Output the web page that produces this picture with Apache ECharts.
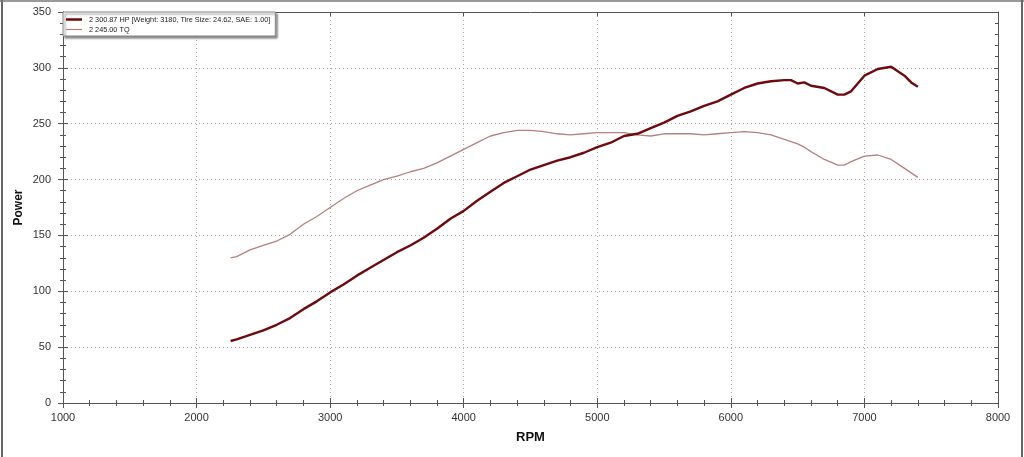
<!DOCTYPE html>
<html>
<head>
<meta charset="utf-8">
<script src="https://cdn.jsdelivr.net/npm/echarts@6/dist/echarts.min.js"></script>
<style>html,body{margin:0;padding:0;background:#fff;}#c{width:1024px;height:457px;}</style>
</head>
<body>
<div id="c"></div>
<script>
const rpm = [2255,2300,2400,2500,2600,2700,2800,2900,3000,3100,3200,3300,3400,3500,3600,3700,3800,3900,4000,4100,4200,4300,4400,4500,4600,4700,4800,4900,5000,5100,5200,5300,5400,5500,5600,5700,5800,5900,6000,6100,6200,6300,6400,6450,6500,6550,6600,6700,6800,6850,6900,7000,7100,7200,7300,7350,7400];
const hp = [55.5,57,61,65,70,76,84,91,99,106,114,121,128,135,141,148,156,165,172,181,189,197,203,209,213,217,220,224,229,233,239,241,246,251,257,261,266,270,276,282,286,288,289,289,286,287,284,282,276,276,279,293,299,301,293,287,283];
const tq = [130,131,137,141,145,151,160,167,175,183,190,195,200,203,207,210,215,221,227,233,239,242,244,244,243,241,240,241,242,242,242,240,239,241,241,241,240,241,242,243,242,240,236,234,232,229,225,218,213,213,216,221,222,218,210,206,202];
const hpName = '2 300.87 HP [Weight: 3180, Tire Size: 24.62, SAE: 1.00]';
const tqName = '2 245.00 TQ';
const xTicks = {min:1000, max:8000, interval:1000};
const yTicks = {min:0, max:350, interval:50};

const chart = echarts.init(document.getElementById('c'), null, {renderer:'canvas'});
const axisCol = '#555';
const gridLeft = 63, gridRight = 26, gridTop = 12, gridBottom = 54;
function xAx(extra){
  return Object.assign({type:'value', min:xTicks.min, max:xTicks.max, interval:xTicks.interval,
    axisLine:{show:true, onZero:false, lineStyle:{color:axisCol, width:1}},
    axisTick:{show:true, length:5, lineStyle:{color:axisCol}},
    minorTick:{show:true, splitNumber:5, length:3, lineStyle:{color:axisCol}},
    axisLabel:{show:false}, splitLine:{show:false}}, extra);
}
function yAx(extra){
  return Object.assign({type:'value', min:yTicks.min, max:yTicks.max, interval:yTicks.interval,
    axisLine:{show:true, onZero:false, lineStyle:{color:axisCol, width:1}},
    axisTick:{show:true, length:5, lineStyle:{color:axisCol}},
    minorTick:{show:true, splitNumber:5, length:3, lineStyle:{color:axisCol}},
    axisLabel:{show:false}, splitLine:{show:false}}, extra);
}
const option = {
  backgroundColor:'#fff',
  animation:false,
  grid:{left:gridLeft, right:gridRight, top:gridTop, bottom:gridBottom, containLabel:false},
  legend:{
    orient:'vertical', left:63, top:12, padding:[4,5,3,3], itemGap:3,
    backgroundColor:'#fff', borderColor:'#888', borderWidth:1,
    shadowColor:'rgba(0,0,0,0.45)', shadowBlur:2, shadowOffsetX:2, shadowOffsetY:2,
    itemWidth:16, itemHeight:9,
    textStyle:{fontFamily:'Liberation Sans, Arial', fontSize:7.3, color:'#222', padding:[0,0,0,2]},
    data:[
      {name:hpName, icon:'path://M0,4 L16,4 L16,6.5 L0,6.5 Z', itemStyle:{color:'#6e0a0e'}},
      {name:tqName, icon:'path://M0,4.5 L16,4.5 L16,5.7 L0,5.7 Z', itemStyle:{color:'#b5807f'}}
    ]
  },
  xAxis:[
    xAx({position:'bottom', name:'RPM', nameLocation:'middle', nameGap:28,
      nameTextStyle:{fontFamily:'Liberation Sans, Arial', fontWeight:'bold', fontSize:13, color:'#111'},
      axisLabel:{show:true, margin:9, color:'#333', fontFamily:'Liberation Sans, Arial', fontSize:11, formatter:v=>String(v)},
      splitLine:{show:true, lineStyle:{color:'#aaa', type:[1,3], width:1}}}),
    xAx({position:'bottom', axisTick:{show:true, inside:true, length:5, lineStyle:{color:axisCol}},
      minorTick:{show:true, splitNumber:5, length:3, lineStyle:{color:axisCol}}}),
    xAx({position:'top', axisTick:{show:true, inside:true, length:4, lineStyle:{color:axisCol}},
      minorTick:{show:false}})
  ],
  yAxis:[
    yAx({position:'left', name:'Power', nameLocation:'middle', nameGap:38, nameRotate:90, nameMoveOverlap:false,
      nameTextStyle:{fontFamily:'Liberation Sans, Arial', fontWeight:'bold', fontSize:12, color:'#111'},
      axisLabel:{show:true, margin:12, color:'#333', fontFamily:'Liberation Sans, Arial', fontSize:11},
      splitLine:{show:true, lineStyle:{color:'#aaa', type:[1,3], width:1}}}),
    yAx({position:'left', axisTick:{show:true, inside:true, length:5, lineStyle:{color:axisCol}},
      minorTick:{show:true, splitNumber:5, length:3, lineStyle:{color:axisCol}}}),
    yAx({position:'right', axisTick:{show:true, inside:true, length:4, lineStyle:{color:axisCol}},
      minorTick:{show:true, splitNumber:5, length:3, lineStyle:{color:axisCol}}})
  ],
  series:[
    {name:tqName, type:'line', xAxisIndex:0, yAxisIndex:0, showSymbol:false, symbol:'none',
     lineStyle:{color:'#b5807f', width:1.3}, itemStyle:{color:'#b5807f'},
     data: rpm.map((r,i)=>[r, tq[i]])},
    {name:hpName, type:'line', xAxisIndex:0, yAxisIndex:0, showSymbol:false, symbol:'none',
     lineStyle:{color:'#6e0a0e', width:2.4}, itemStyle:{color:'#6e0a0e'},
     data: rpm.map((r,i)=>[r, hp[i]])}
  ],
  graphic:[
    {type:'line', shape:{x1:2, y1:0, x2:2, y2:457}, style:{stroke:'#666', lineWidth:2}},
    {type:'line', shape:{x1:0, y1:1, x2:1024, y2:1}, style:{stroke:'#777', lineWidth:1.5}},
    {type:'line', shape:{x1:1022, y1:0, x2:1022, y2:457}, style:{stroke:'#666', lineWidth:2}}
  ]
};
chart.setOption(option);
</script>
</body>
</html>
